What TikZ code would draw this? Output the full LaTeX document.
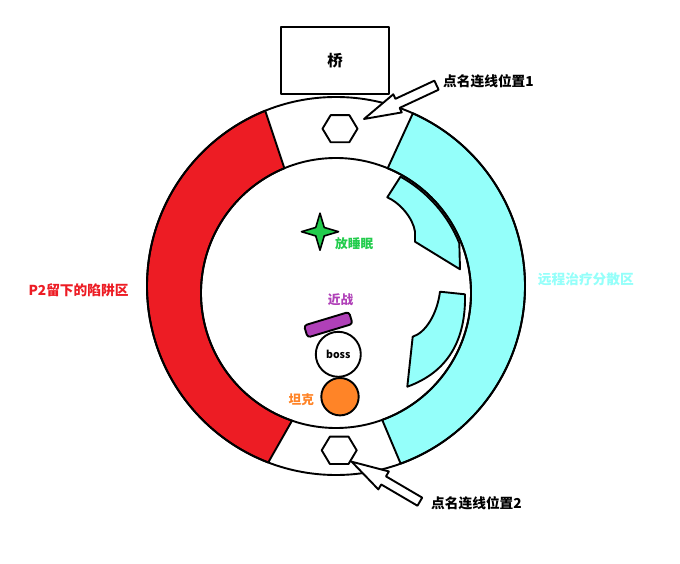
\documentclass[tikz,border=0pt]{standalone}
\usepackage{fontspec}
\setmainfont{Noto Sans CJK SC}
\definecolor{trapred}{HTML}{ED1C24}
\definecolor{healcyan}{HTML}{94FFFA}
\definecolor{sleepgreen}{HTML}{22CC4C}
\definecolor{meleepurple}{HTML}{B040B8}
\definecolor{tankorange}{HTML}{FF8427}
\begin{document}
\begin{tikzpicture}[x=1pt,y=1pt, line join=round,
  outline/.style={draw=black, line width=1.9pt},
  biglbl/.style={inner sep=0pt, font=\fontsize{13.7}{16}\selectfont\bfseries},
  smalllbl/.style={inner sep=0pt, font=\fontsize{12.7}{15}\selectfont\bfseries},
  hollowarrow/.style={outline, fill=white}]
\useasboundingbox (0,0) rectangle (680,563);
\fill[white] (0,0) rectangle (680,563);
\coordinate (O) at (336,277);
\coordinate (I) at (336,270);
% ring
\fill[white] (O) circle[radius=189pt];
\filldraw[fill=trapred, outline] ([shift={(112:189pt)}]O) arc[start angle=112, end angle=249, radius=189pt]
  -- ([shift={(251:135pt)}]I) arc[start angle=251, end angle=112.5, radius=135pt] -- cycle;
\filldraw[fill=healcyan, outline] ([shift={(66:189pt)}]O) arc[start angle=66, end angle=-70, radius=189pt]
  -- ([shift={(-70:135pt)}]I) arc[start angle=-70, end angle=67.5, radius=135pt] -- cycle;
\draw[outline] (O) circle[radius=189pt];
\draw[outline] (I) circle[radius=135pt];
% inner cyan pieces
\filldraw[fill=healcyan, outline] ([shift={(61:133pt)}]I) arc[start angle=61, end angle=22, radius=133pt]
  -- (460,293.7) -- (415,321.3) -- (415,331.3) .. controls (413,345) and (400,360) .. (387.3,365.7) -- cycle;
\filldraw[fill=healcyan, outline] (440,271.3) -- (465,268.7) .. controls (466,223) and (448,191) .. (407.3,176.3)
  -- (412.7,226.3) .. controls (425,230) and (437,248) .. (440,271.3) -- cycle;
% bridge
\node[draw, line width=1.9pt, minimum width=108pt, minimum height=67pt, inner sep=0pt,
  font=\fontsize{15.5}{18}\selectfont\bfseries] (bridge) at (335,502.5) {桥};
% hexagons
\coordinate (hexTop) at (340,434.3);
\coordinate (hexBot) at (339.2,112.7);
\draw[outline, fill=white] ([shift={(-17.5,0)}]hexTop) -- ++(8.2,13.6) -- ++(18.6,0) -- ++(8.2,-13.6)
  -- ++(-8.2,-13.6) -- ++(-18.6,0) -- cycle;
\draw[outline, fill=white] ([shift={(-17.5,0)}]hexBot) -- ++(8.2,13.7) -- ++(18.6,0) -- ++(8.2,-13.7)
  -- ++(-8.2,-13.7) -- ++(-18.6,0) -- cycle;
% block arrows
\draw[hollowarrow, shift={(364,444)}, rotate=25] (0,0) -- (37,10) -- (37,5) -- (80,5) -- (80,-5)
  -- (37,-5) -- (37,-10) -- cycle;
\draw[hollowarrow, shift={(351.7,101.3)}, rotate=-30.4] (0,0) -- (37,10.4) -- (37,4.7) -- (79,4.7)
  -- (79,-4.7) -- (37,-4.7) -- (37,-10.4) -- cycle;
\node[biglbl, anchor=west] (pos1) at (443,481.3) {点名连线位置1};
\node[biglbl, anchor=west] (pos2) at (431,59.7) {点名连线位置2};
% side labels
\node[biglbl, anchor=west, text=trapred] (trap) at (28.3,272.3) {P2留下的陷阱区};
\node[biglbl, anchor=west, text=healcyan] (heal) at (537.7,283.7) {远程治疗分散区};
% star
\filldraw[fill=sleepgreen, outline, line width=1.6pt, shift={(320,331.3)}]
  (90:18.5pt) -- (45:6pt) -- (0:18.5pt) -- (-45:6pt) -- (-90:18.5pt) -- (-135:6pt)
  -- (180:18.5pt) -- (135:6pt) -- cycle;
\node[smalllbl, anchor=west, text=sleepgreen] (sleep) at (335,319.7) {放睡眠};
% melee, boss, tank
\node[smalllbl, text=meleepurple] (meleelbl) at (340.5,263.7) {近战};
\node[draw, line width=1.9pt, fill=meleepurple, rounded corners=3pt, minimum width=47pt,
  minimum height=12.5pt, rotate=16.8, inner sep=0pt] (melee) at (328.3,238.3) {};
\node[circle, draw, line width=1.9pt, fill=white, minimum size=45pt, inner sep=0pt,
  font=\fontsize{10.5}{12}\selectfont\bfseries] (boss) at (338.3,208.7) {boss};
\node[circle, draw, line width=1.9pt, fill=tankorange, minimum size=37.4pt, inner sep=0pt] (tank) at (340,166.3) {};
\node[smalllbl, text=tankorange] (tanklbl) at (301.3,163) {坦克};
\end{tikzpicture}
\end{document}
